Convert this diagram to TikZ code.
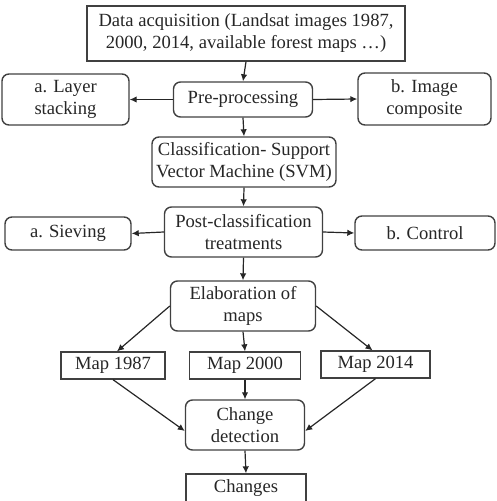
\documentclass[tikz,border=0pt]{standalone}
\usepackage{fontspec}
\setmainfont{Liberation Serif}
\usetikzlibrary{arrows.meta}
\begin{document}
\begin{tikzpicture}[x=1pt,y=-1pt,
  every node/.style={font=\fontsize{18.6}{22}\selectfont, align=center, inner sep=0pt, text=black!85},
  sq/.style={draw=black!75, line width=1.3pt},
  rd/.style={draw=black!75, line width=1.4pt, rounded corners=7pt},
  arr/.style={draw=black!85, line width=1.2pt, -{Latex[length=7pt,width=6.5pt]}}]
\useasboundingbox (0,0) rectangle (497,501);
\clip (0,0) rectangle (497,501);
\node[sq, minimum width=318pt, minimum height=55pt] (data) at (246,33.5) {Data acquisition (Landsat images 1987,\\2000, 2014, available forest maps …)};
\node[rd, minimum width=127pt, minimum height=51pt] (layer) at (65.5,99.5) {a. Layer\\stacking};
\node[rd, minimum width=139pt, minimum height=35pt] (pre) at (243,99.5) {Pre-processing};
\node[rd, minimum width=133pt, minimum height=52pt] (image) at (424.5,99) {b. Image\\composite};
\node[rd, minimum width=184pt, minimum height=50pt] (class) at (244,162) {Classification- Support\\Vector Machine (SVM)};
\node[rd, minimum width=158pt, minimum height=50pt] (post) at (243.5,232) {Post-classification\\treatments};
\node[rd, minimum width=126pt, minimum height=33pt] (sieve) at (68,233.5) {a. Sieving};
\node[rd, minimum width=140pt, minimum height=34pt] (control) at (425,233) {b. Control};
\node[rd, minimum width=145pt, minimum height=50pt] (elab) at (243,306) {Elaboration of\\maps};
\node[sq, minimum width=104pt, minimum height=27pt] (m1) at (113,365.5) {Map 1987};
\node[sq, minimum width=111pt, minimum height=27pt] (m2) at (245,365.5) {Map 2000};
\node[sq, minimum width=109pt, minimum height=27pt] (m3) at (375.5,364.5) {Map 2014};
\node[rd, minimum width=119pt, minimum height=50pt] (chg) at (245,425) {Change\\detection};
\node[sq, minimum width=120pt, minimum height=40pt, text depth=0pt] (res) at (246,494) {};
\node at (246,488) {Changes};
\draw[arr] (data.south) -- (pre.north);
\draw[arr] (pre.west) -- (layer.east);
\draw[arr] (pre.east) -- (image.west);
\draw[arr] (pre.south) -- (class.north);
\draw[arr] (class.south) -- (post.north);
\draw[arr] (post.west) -- (sieve.east);
\draw[arr] (post.east) -- (control.west);
\draw[arr] (post.south) -- (elab.north);
\draw[arr] (elab.west) -- ([xshift=4pt]m1.north);
\draw[arr] (elab.south) -- (m2.north);
\draw[arr] (elab.east) -- ([xshift=-3pt]m3.north);
\draw[arr] (m1.south) -- ([yshift=-6pt]chg.west);
\draw[arr] (m2.south) -- (chg.north);
\draw[arr] (m3.south) -- ([yshift=-6pt]chg.east);
\draw[arr] (chg.south) -- (res.north);
\end{tikzpicture}
\end{document}
